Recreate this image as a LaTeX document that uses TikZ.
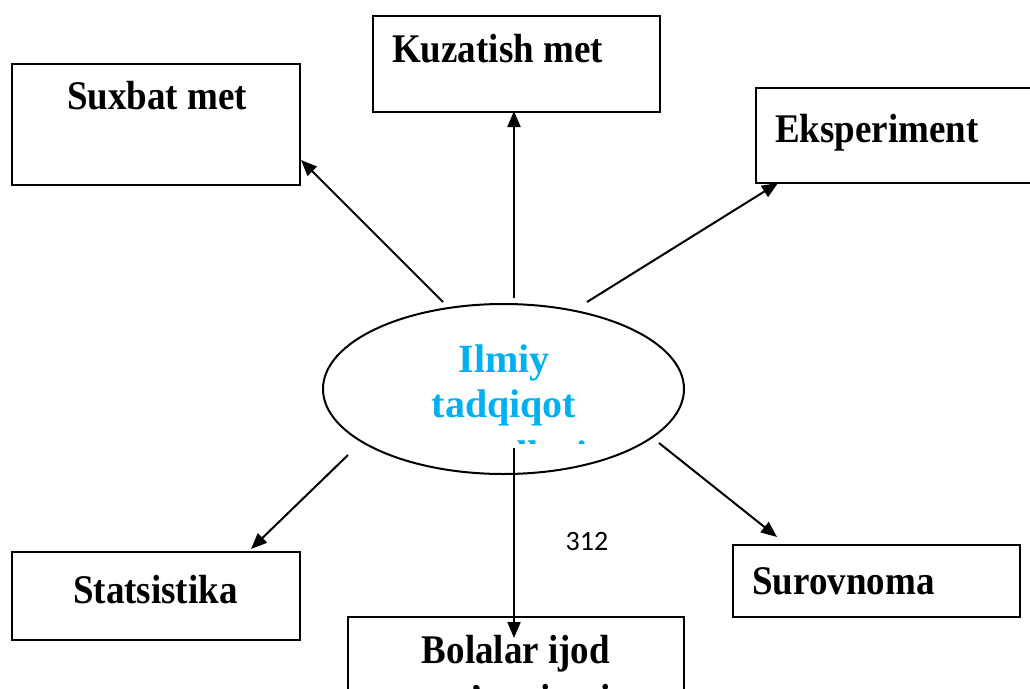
\documentclass[tikz,border=0pt]{standalone}
\usepackage{fontspec}
\setmainfont{Liberation Serif}
\newfontfamily\digitfont{Carlito}
\usetikzlibrary{arrows.meta,shapes.geometric}
\definecolor{skyblue}{HTML}{00B0F0}
\newcommand\tallt[1]{\scalebox{1}[1.1]{#1}}
\begin{document}
\begin{tikzpicture}[x=1pt,y=-1pt,
  box/.style={draw,line width=2pt,rectangle,inner sep=0pt,anchor=north west},
  lbl/.style={inner sep=0pt,anchor=base west,font=\fontsize{37}{40}\selectfont\bfseries},
  ctr/.style={inner sep=0pt,anchor=base,font=\fontsize{40}{44}\selectfont\bfseries,text=skyblue},
  arr/.style={line width=2pt,-{Triangle[length=16pt,width=13pt]}}]
\useasboundingbox (0,0) rectangle (1030,688);
\clip (0,0) rectangle (1030,688);

% boxes
\node[box,minimum width=288pt,minimum height=121pt] (suxbat) at (11,63) {};
\node[box,minimum width=287pt,minimum height=96pt] (kuzatish) at (372,15) {};
\node[box,minimum width=300pt,minimum height=95pt] (eksp) at (755,87) {};
\node[box,minimum width=288pt,minimum height=88pt] (stat) at (11,551) {};
\node[box,minimum width=287pt,minimum height=72pt] (surov) at (732,544) {};
\node[box,minimum width=336pt,minimum height=110pt] (bolalar) at (347,616) {};

% box texts
\node[lbl] (tsux) at (67,109) {\tallt{Suxbat met}};
\node[lbl] (tkuz) at (392,62) {\tallt{Kuzatish met}};
\node[lbl] (teks) at (775,142) {\tallt{Eksperiment}};
\node[lbl] (tstat) at (73,603) {\tallt{Statsistika}};
\node[lbl] (tsur) at (752,594) {\tallt{Surovnoma}};
\node[lbl,anchor=base] (tbol1) at (516,663) {\tallt{Bolalar ijod}};
\node[lbl,anchor=base] (tbol2) at (516,712) {\tallt{ma’naviyati}};

% central ellipse
\node[draw,line width=2pt,ellipse,minimum width=361pt,minimum height=170pt,inner sep=0pt] (ell) at (503.5,389) {};
\begin{scope}
  \clip (300,300) rectangle (720,443);
  \node[ctr] (c1) at (504,372) {Ilmiy};
  \node[ctr] (c2) at (504,417) {tadqiqot};
  \node[ctr] (c3) at (504,468) {metodlari};
\end{scope}

% page number
\node[inner sep=0pt,anchor=base,font=\digitfont\fontsize{28}{30}\selectfont] (pg) at (587,550) {312};

% arrow end points
\coordinate (s1) at (443,302); \coordinate (e1) at (301,160);
\coordinate (s2) at (514,298); \coordinate (e2) at (514,111);
\coordinate (s3) at (587,302); \coordinate (e3) at (778,183);
\coordinate (s4) at (348,455); \coordinate (e4) at (251,549);
\coordinate (s5) at (514,448); \coordinate (e5) at (514,638);
\coordinate (s6) at (659,443); \coordinate (e6) at (777,537);

\draw[arr] (s1) -- (e1);
\draw[arr] (s2) -- (e2);
\draw[arr] (s3) -- (e3);
\draw[arr] (s4) -- (e4);
\draw[arr] (s5) -- (e5);
\draw[arr] (s6) -- (e6);
\end{tikzpicture}
\end{document}
